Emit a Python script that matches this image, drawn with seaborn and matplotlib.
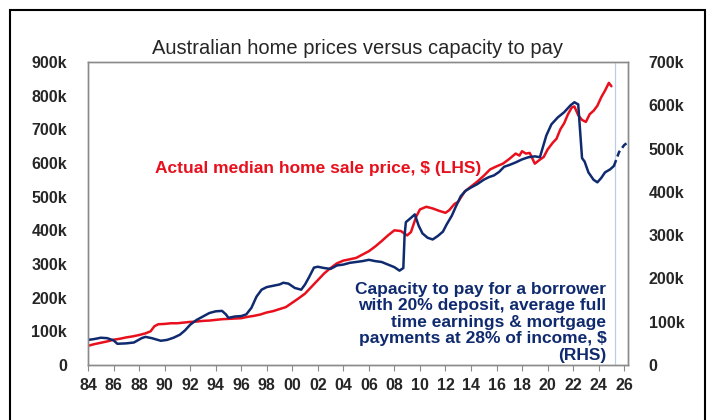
import numpy as np
import pandas as pd
import matplotlib
matplotlib.use("Agg")
import matplotlib.pyplot as plt
import seaborn as sns
from matplotlib.patches import Rectangle

# ==========================================
# DATA
# ==========================================

# actual median home sale price, $k (LHS)
price_year = [1984.0, 1984.5, 1985.0, 1985.5, 1986.0, 1986.5, 1987.0, 1987.5, 1988.0, 1988.5,
              1988.9, 1989.2, 1989.5, 1990.0, 1990.5, 1991.0, 1991.5, 1992.0, 1992.5, 1993.0,
              1993.5, 1994.0, 1994.5, 1995.0, 1995.5, 1996.0, 1996.5, 1997.0, 1997.5, 1998.0,
              1998.5, 1999.0, 1999.5, 2000.0, 2000.5, 2001.0, 2001.5, 2002.0, 2002.5, 2003.0,
              2003.5, 2004.0, 2004.5, 2005.0, 2005.5, 2006.0, 2006.5, 2007.0, 2007.5, 2008.0,
              2008.5, 2009.0, 2009.3, 2009.7, 2010.0, 2010.5, 2011.0, 2011.5, 2012.0, 2012.3,
              2012.7, 2013.0, 2013.5, 2014.0, 2014.5, 2015.0, 2015.5, 2016.0, 2016.5, 2017.0,
              2017.5, 2017.8, 2018.0, 2018.3, 2018.6, 2019.0, 2019.4, 2019.7, 2020.0, 2020.4,
              2020.7, 2021.0, 2021.3, 2021.6, 2021.9, 2022.1, 2022.4, 2022.7, 2023.0, 2023.3,
              2023.6, 2023.9, 2024.2, 2024.5, 2024.8, 2025.0]
price_k = [57, 62, 66, 70, 75, 78, 82, 85, 89, 94,
           100, 115, 121, 122, 124, 124, 126, 128, 129, 131,
           132, 134, 136, 137, 138, 139, 143, 146, 150, 156,
           160, 166, 172, 185, 198, 212, 232, 252, 272, 288,
           302, 310, 314, 318, 328, 338, 352, 368, 385, 400,
           398, 385, 395, 440, 462, 470, 465, 458, 452, 460,
           478, 485, 515, 530, 545, 562, 581, 590, 598, 612,
           628, 622, 635, 628, 630, 598, 610, 618, 640, 660,
           672, 700, 718, 745, 765, 768, 742, 728, 722, 745,
           755, 770, 795, 815, 838, 828]

# capacity to pay, $k (RHS)
cap_year = [1984.0, 1984.5, 1985.0, 1985.5, 1986.0, 1986.3, 1987.0, 1987.6, 1988.2, 1988.5,
            1989.0, 1989.7, 1990.2, 1990.7, 1991.2, 1991.6, 1992.0, 1992.5, 1993.0, 1993.5,
            1994.0, 1994.5, 1994.8, 1995.0, 1995.5, 1996.0, 1996.4, 1996.8, 1997.2, 1997.6,
            1998.0, 1998.5, 1999.0, 1999.3, 1999.7, 2000.2, 2000.7, 2001.0, 2001.3, 2001.7,
            2002.0, 2002.5, 2003.0, 2003.5, 2004.0, 2004.5, 2005.0, 2005.5, 2006.0, 2006.5,
            2007.0, 2007.5, 2008.0, 2008.4, 2008.7, 2008.8, 2008.9, 2009.3, 2009.6, 2009.9,
            2010.2, 2010.6, 2011.0, 2011.4, 2011.8, 2012.1, 2012.5, 2012.8, 2013.2, 2013.6,
            2014.0, 2014.5, 2015.0, 2015.4, 2015.8, 2016.2, 2016.6, 2017.0, 2017.5, 2018.0,
            2018.5, 2019.0, 2019.4, 2019.6, 2019.9, 2020.3, 2020.8, 2021.3, 2021.8, 2022.1,
            2022.4, 2022.55, 2022.7, 2022.9, 2023.2, 2023.6, 2023.9, 2024.2, 2024.5, 2024.9,
            2025.2]
cap_k = [58, 60, 63, 62, 57, 49, 50, 52, 62, 65,
         62, 56, 58, 63, 70, 80, 93, 104, 112, 120,
         124, 125, 117, 109, 112, 113, 117, 132, 158, 174,
         180, 183, 186, 190, 188, 178, 174, 186, 202, 225,
         227, 224, 222, 230, 232, 236, 238, 240, 243, 240,
         238, 232, 226, 218, 224, 300, 330, 340, 348, 322,
         304, 294, 290, 298, 308, 325, 345, 365, 390, 403,
         410, 418, 428, 434, 438, 446, 458, 462, 468, 475,
         480, 482, 480, 500, 530, 556, 572, 584, 600, 607,
         602, 540, 478, 470, 445, 428, 422, 432, 445, 452,
         460]

# projection (dashed)
proj_year = [2025.2, 2025.6, 2026.0, 2026.3]
proj_k = [460, 492, 508, 515]

x_ticks = list(range(1984, 2027, 2))
x_labels = [f"{y % 100:02d}" for y in x_ticks]
lhs_ticks = list(range(0, 901, 100))
rhs_ticks = list(range(0, 701, 100))

RED = "#e8101c"
NAVY = "#0f2a6e"

# ==========================================
# PLOT
# ==========================================

sns.set_style("white")
plt.rcParams["font.family"] = ["Liberation Sans", "DejaVu Sans"]

fig = plt.figure(figsize=(7.15, 4.2), dpi=100)
ax = fig.add_axes([88 / 715, 55 / 420, 540 / 715, 303 / 420])
ax2 = ax.twinx()

price_df = pd.DataFrame({"year": price_year, "value": price_k})
cap_df = pd.DataFrame({"year": cap_year, "value": cap_k})
proj_df = pd.DataFrame({"year": proj_year, "value": proj_k})

sns.lineplot(data=price_df, x="year", y="value", ax=ax, color=RED, lw=1.8)
sns.lineplot(data=cap_df, x="year", y="value", ax=ax2, color=NAVY, lw=1.8)
sns.lineplot(data=proj_df, x="year", y="value", ax=ax2, color=NAVY, lw=1.8,
             linestyle=(0, (2.5, 1.5)))

ax2.axvline(2025.3, color="#b9cde6", lw=0.9, zorder=0)

ax.set_xlim(1984, 2026.3)
ax.set_ylim(0, 900)
ax2.set_ylim(0, 700)

ax.set_xticks(x_ticks)
ax.set_xticklabels(x_labels)
ax.set_yticks(lhs_ticks)
ax.set_yticklabels(["0"] + [f"{v}k" for v in lhs_ticks[1:]])
ax2.set_yticks(rhs_ticks)
ax2.set_yticklabels(["0"] + [f"{v}k" for v in rhs_ticks[1:]])

for a in (ax, ax2):
    a.set_xlabel("")
    a.set_ylabel("")
    for s in a.spines.values():
        s.set_color("#8a8a8a")
        s.set_linewidth(1.0)
    a.tick_params(axis="y", length=0, labelsize=11.5)
    for t in a.get_yticklabels():
        t.set_fontweight("bold")

ax.tick_params(axis="x", length=4, width=0.8, color="#8a8a8a", labelsize=11.5, pad=5,
               direction="out", bottom=True)
for t in ax.get_xticklabels():
    t.set_fontweight("bold")
ax.tick_params(axis="y", pad=15)
ax2.tick_params(axis="y", pad=15)

ax.set_title("Australian home prices versus capacity to pay", fontsize=14.5, pad=6)

ax.text(2002.0, 584, "Actual median home sale price, $ (LHS)", color=RED,
        fontsize=12.5, fontweight="bold", ha="center", va="center")
ax2.text(2024.6, 5, "Capacity to pay for a borrower\nwith 20% deposit, average full\n"
         "time earnings & mortgage\npayments at 28% of income, $\n(RHS)",
         color=NAVY, fontsize=12.5, fontweight="bold", ha="right", va="bottom",
         linespacing=1.13)

# outer frame like the source image
fig.patches.append(Rectangle((10 / 715, -0.05), 695 / 715, 1.05 - 10 / 420,
                             transform=fig.transFigure, fill=False,
                             edgecolor="black", lw=1.5))

fig.savefig("out.png", dpi=100)
